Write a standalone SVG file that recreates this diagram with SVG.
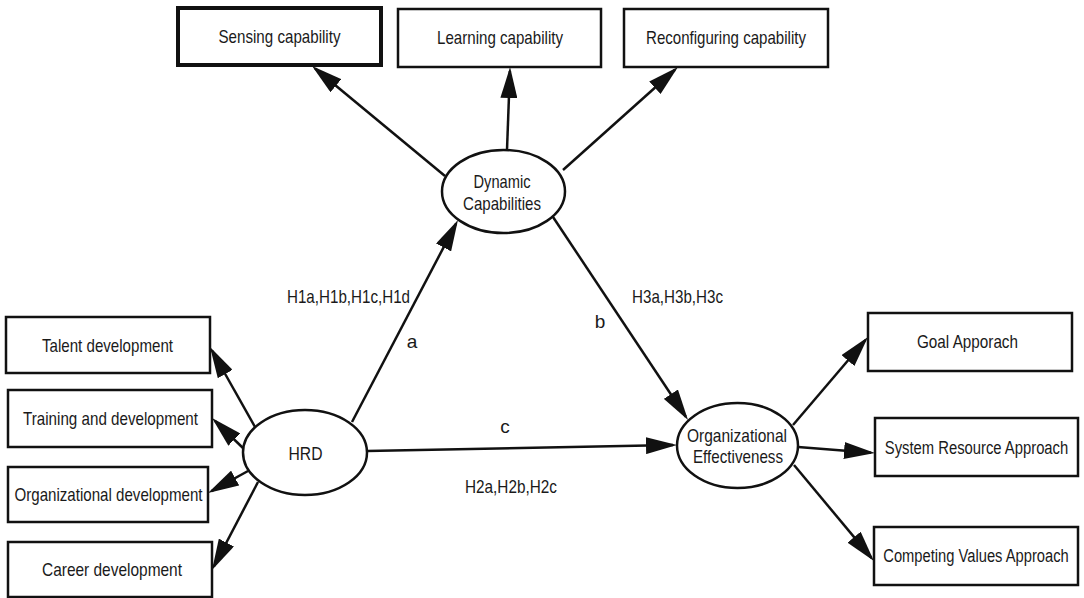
<svg xmlns="http://www.w3.org/2000/svg" width="1084" height="598" viewBox="0 0 1084 598">
<style>
.box{fill:#fff;stroke:#111;stroke-width:2.5}
.thick{stroke-width:4}
.ell{fill:#fff;stroke:#111;stroke-width:2.5}
.con line{stroke:#111;stroke-width:2.5;marker-end:url(#ah)}
text{font-family:"Liberation Sans Narrow","Liberation Sans",Arial,sans-serif;font-size:19px;fill:#1a1a1a;text-anchor:middle}
</style>
<defs>
<marker id="ah" markerUnits="userSpaceOnUse" markerWidth="31" markerHeight="17" viewBox="0 0 31 17" refX="27" refY="8.5" orient="auto">
<path d="M0,0 L31,8.5 L0,17 Z" fill="#111"/>
</marker>
</defs>
<rect width="1084" height="598" fill="#fff"/>
<g id="connectors" class="con">
<line x1="445" y1="176" x2="315.1" y2="68.5"/>
<line x1="507" y1="150" x2="509.9" y2="71"/>
<line x1="563" y1="170" x2="675" y2="69.7"/>
<line x1="352" y1="422" x2="456.1" y2="223.5"/>
<line x1="553" y1="217" x2="685.8" y2="416.7"/>
<line x1="367" y1="451" x2="673" y2="445.1"/>
<line x1="793" y1="425" x2="865.4" y2="340"/>
<line x1="798" y1="447" x2="871" y2="452.7"/>
<line x1="794" y1="465" x2="871.4" y2="557.9"/>
<line x1="255" y1="427" x2="212" y2="350.5"/>
<line x1="243" y1="448" x2="214.9" y2="420.8"/>
<line x1="248" y1="471" x2="211.5" y2="491.1"/>
<line x1="258" y1="482" x2="213.9" y2="566.5"/>
</g>
<g id="labels">
<text x="348.5" y="303" textLength="123" lengthAdjust="spacingAndGlyphs">H1a,H1b,H1c,H1d</text>
<text x="412" y="348">a</text>
<text x="600" y="328">b</text>
<text x="677.5" y="303" textLength="91" lengthAdjust="spacingAndGlyphs">H3a,H3b,H3c</text>
<text x="505" y="433">c</text>
<text x="511" y="493" textLength="92" lengthAdjust="spacingAndGlyphs">H2a,H2b,H2c</text>
</g>
<g id="sensing"><rect class="box thick" x="178" y="8" width="203" height="57"/><text x="279.5" y="43" textLength="122" lengthAdjust="spacingAndGlyphs">Sensing capability</text></g>
<g id="learning"><rect class="box" x="398" y="9" width="203" height="58"/><text x="500" y="44" textLength="126" lengthAdjust="spacingAndGlyphs">Learning capability</text></g>
<g id="reconfiguring"><rect class="box" x="624" y="9" width="204" height="58"/><text x="726" y="44" textLength="160" lengthAdjust="spacingAndGlyphs">Reconfiguring capability</text></g>
<g id="dynamic"><ellipse class="ell" cx="503.5" cy="191.5" rx="61.5" ry="41.5"/><text x="502" y="188" textLength="57" lengthAdjust="spacingAndGlyphs">Dynamic</text><text x="502" y="210" textLength="78" lengthAdjust="spacingAndGlyphs">Capabilities</text></g>
<g id="hrd"><ellipse class="ell" cx="305" cy="452.5" rx="62" ry="42.5"/><text x="305.5" y="460" font-size="21" textLength="34" lengthAdjust="spacingAndGlyphs">HRD</text></g>
<g id="oe"><ellipse class="ell" cx="737.5" cy="445.5" rx="60.5" ry="42.5"/><text x="737" y="442" textLength="100" lengthAdjust="spacingAndGlyphs">Organizational</text><text x="738" y="463" textLength="90" lengthAdjust="spacingAndGlyphs">Effectiveness</text></g>
<g id="talent"><rect class="box" x="6" y="317" width="204" height="56"/><text x="107.5" y="352" textLength="131" lengthAdjust="spacingAndGlyphs">Talent development</text></g>
<g id="training"><rect class="box" x="8" y="390" width="204" height="57"/><text x="110.5" y="425" textLength="175" lengthAdjust="spacingAndGlyphs">Training and development</text></g>
<g id="orgdev"><rect class="box" x="8" y="467" width="200" height="55"/><text x="108.5" y="501" textLength="188" lengthAdjust="spacingAndGlyphs">Organizational development</text></g>
<g id="career"><rect class="box" x="8" y="542" width="204" height="55"/><text x="112" y="576" textLength="140" lengthAdjust="spacingAndGlyphs">Career development</text></g>
<g id="goal"><rect class="box" x="868" y="313" width="204" height="58"/><text x="967.5" y="348" textLength="101" lengthAdjust="spacingAndGlyphs">Goal Apporach</text></g>
<g id="system"><rect class="box" x="875" y="418" width="203" height="58"/><text transform="translate(976.5,454) scale(0.78,1)">System Resource Approach</text></g>
<g id="competing"><rect class="box" x="874" y="527" width="204" height="58"/><text transform="translate(976,562) scale(0.775,1)">Competing Values Approach</text></g>
</svg>
